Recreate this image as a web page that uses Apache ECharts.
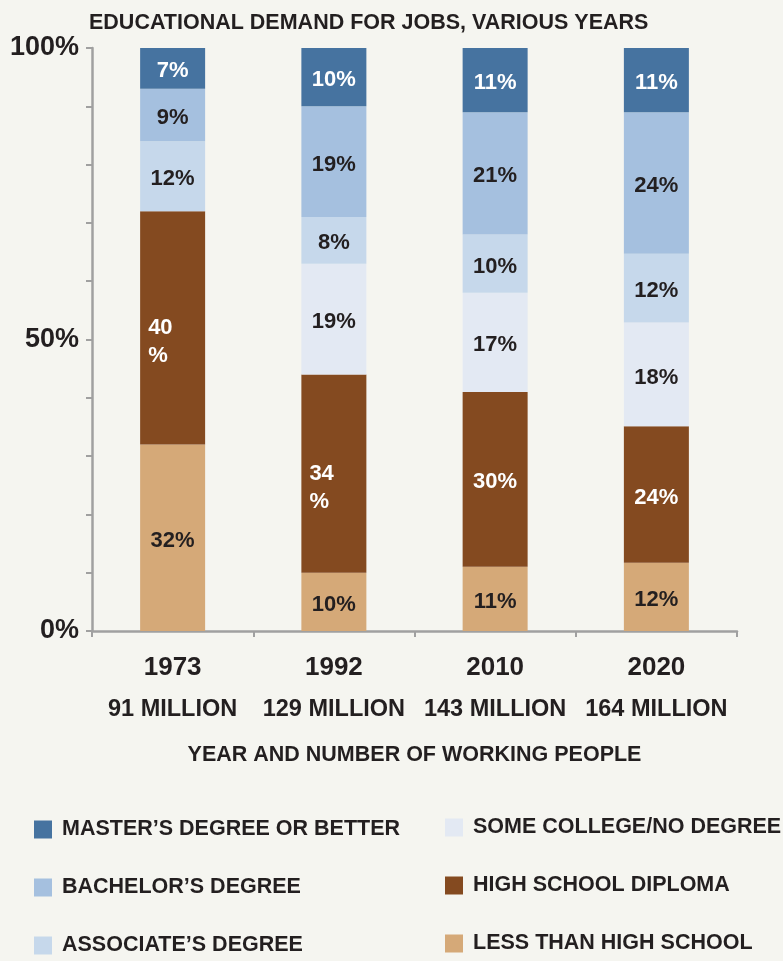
<!DOCTYPE html>
<html>
<head>
<meta charset="utf-8">
<script src="https://cdn.jsdelivr.net/npm/echarts@6/dist/echarts.min.js"></script>
<style>
  html, body { margin: 0; padding: 0; background: #f5f5f0; }
  #chart { width: 783px; height: 961px; }
</style>
</head>
<body>
<div id="chart"></div>
<script>
// categories
var years = ['1973', '1992', '2010', '2020'];
var workers = ['91 MILLION', '129 MILLION', '143 MILLION', '164 MILLION'];

// segment heights (share of jobs, %)
var lessThanHS  = [32, 10, 11, 11.7];
var highSchool  = [40, 34, 30, 23.4];
var someCollege = [null, 19, 17, 17.8];
var associate   = [12, 8, 10, 11.8];
var bachelor    = [9, 19, 21, 24.3];
var master      = [7, 10, 11, 11];

// percentages as printed on the bars (rounded in the source)
var lessLabels   = [32, 10, 11, 12];
var hsLabels     = [40, 34, 30, 24];
var someLabels   = [null, 19, 17, 18];
var assocLabels  = [12, 8, 10, 12];
var bachLabels   = [9, 19, 21, 24];
var masterLabels = [7, 10, 11, 11];

var yTicks = [0, 50, 100];

var FONT = '"Liberation Sans", Arial, sans-serif';
var DARK = '#231f20';

var chart = echarts.init(document.getElementById('chart'));

function makeSeries(name, values, shown, color, textColor, wrap) {
  wrap = wrap || [];
  return {
    name: name,
    type: 'bar',
    stack: 'total',
    barWidth: 65,
    itemStyle: { color: color },
    emphasis: { disabled: true },
    label: {
      show: true,
      position: 'inside',
      offset: [0, 3],
      color: textColor,
      fontFamily: FONT,
      fontSize: 22,
      fontWeight: 'bold',
      formatter: function(p) {
        var s = shown[p.dataIndex];
        if (s == null) return '';
        return wrap[p.dataIndex] ? s + '\n%' : s + '%';
      }
    },
    data: values.map(function(v, i) {
      if (!wrap[i]) return v;
      // the source wraps these two labels onto two lines at the left of the bar
      return {
        value: v,
        label: {
          position: [8, '50%'],
          align: 'left',
          verticalAlign: 'middle',
          lineHeight: 28,
          offset: [0, 14]
        }
      };
    })
  };
}

var legendText = { fontFamily: FONT, fontSize: 21.5, fontWeight: 'bold', color: DARK, lineHeight: 18, padding: [9, 0, 0, 5] };

var option = {
  backgroundColor: '#f5f5f0',
  animation: false,
  title: {
    text: 'EDUCATIONAL DEMAND FOR JOBS, VARIOUS YEARS',
    left: 84,
    top: 7,
    textStyle: { fontFamily: FONT, fontSize: 21.5, fontWeight: 'bold', color: DARK }
  },
  grid: { left: 92, right: 46, top: 48, bottom: 330 },
  legend: [{
    orient: 'vertical',
    left: 34,
    top: 816,
    height: 145,
    padding: 0,
    icon: 'rect',
    itemWidth: 18,
    itemHeight: 18,
    itemGap: 31,
    textStyle: legendText,
    data: ['MASTER\u2019S DEGREE OR BETTER', 'BACHELOR\u2019S DEGREE', 'ASSOCIATE\u2019S DEGREE']
  }, {
    orient: 'vertical',
    left: 445,
    top: 814,
    height: 147,
    padding: 0,
    icon: 'rect',
    itemWidth: 18,
    itemHeight: 18,
    itemGap: 31,
    textStyle: legendText,
    data: ['SOME COLLEGE/NO DEGREE', 'HIGH SCHOOL DIPLOMA', 'LESS THAN HIGH SCHOOL']
  }],
  xAxis: {
    type: 'category',
    data: years,
    name: 'YEAR AND NUMBER OF WORKING PEOPLE',
    nameLocation: 'middle',
    nameGap: 113,
    nameTextStyle: { fontFamily: FONT, fontSize: 21.5, fontWeight: 'bold', color: DARK },
    axisLine: { lineStyle: { color: '#a0a0a0', width: 2.5 } },
    axisTick: { show: true, alignWithLabel: false, length: 6, lineStyle: { color: '#a0a0a0', width: 2 } },
    axisLabel: {
      margin: 16,
      formatter: function(value, idx) {
        return '{y|' + value + '}\n{m|' + workers[idx] + '}';
      },
      rich: {
        y: { fontFamily: FONT, fontSize: 26, fontWeight: 'bold', color: DARK, lineHeight: 42 },
        m: { fontFamily: FONT, fontSize: 23.5, fontWeight: 'bold', color: DARK, lineHeight: 42 }
      }
    }
  },
  yAxis: {
    type: 'value',
    min: 0,
    max: 100,
    interval: 10,
    splitLine: { show: false },
    axisLine: { show: true, lineStyle: { color: '#a0a0a0', width: 2.5 } },
    axisTick: { show: true, length: 6, lineStyle: { color: '#a0a0a0', width: 2 } },
    axisLabel: {
      margin: 13,
      fontFamily: FONT,
      fontSize: 27,
      fontWeight: 'bold',
      color: DARK,
      formatter: function(v) {
        return yTicks.indexOf(v) >= 0 ? v + '%' : '';
      }
    }
  },
  series: [
    makeSeries('LESS THAN HIGH SCHOOL', lessThanHS, lessLabels, '#d5a978', DARK),
    makeSeries('HIGH SCHOOL DIPLOMA', highSchool, hsLabels, '#844a20', '#ffffff', [true, true, false, false]),
    makeSeries('SOME COLLEGE/NO DEGREE', someCollege, someLabels, '#e3e9f3', DARK),
    makeSeries('ASSOCIATE\u2019S DEGREE', associate, assocLabels, '#c6d8eb', DARK),
    makeSeries('BACHELOR\u2019S DEGREE', bachelor, bachLabels, '#a5c0df', DARK),
    makeSeries('MASTER\u2019S DEGREE OR BETTER', master, masterLabels, '#4673a0', '#ffffff')
  ]
};

chart.setOption(option);
</script>
</body>
</html>
